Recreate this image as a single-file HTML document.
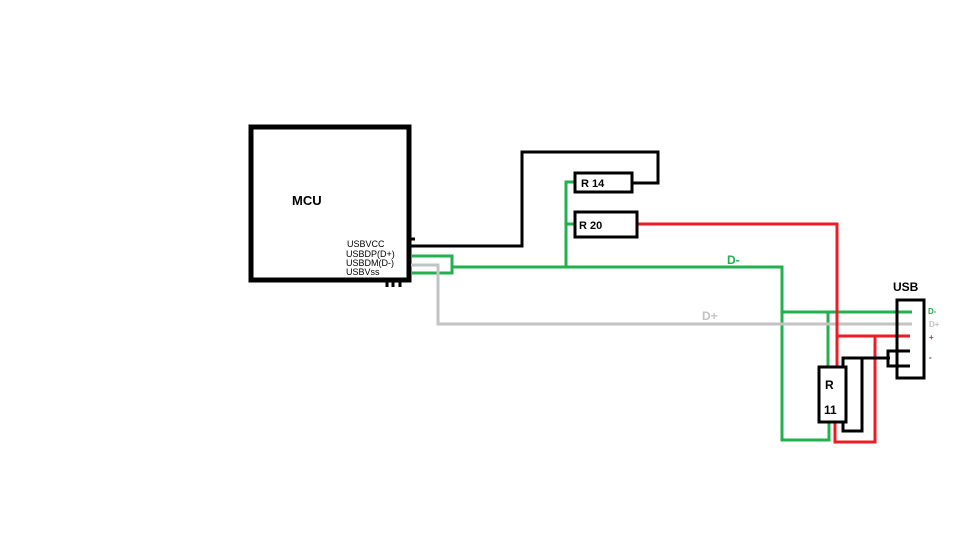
<!DOCTYPE html>
<html><head><style>body{margin:0;background:#fff}svg{display:block}</style></head><body>
<svg width="960" height="540" viewBox="0 0 960 540" font-family="Liberation Sans, sans-serif" font-weight="bold">
<rect width="960" height="540" fill="#fff"/>
<rect x="251" y="127" width="158" height="153" fill="none" stroke="#000" stroke-width="5"/>
<text x="292" y="205" font-size="13">MCU</text>
<g font-size="9" font-weight="normal" fill="#000">
<text x="347" y="247">USBVCC</text><text x="346" y="257">USBDP(D+)</text><text x="346" y="266">USBDM(D-)</text><text x="346" y="275">USBVss</text></g>
<g stroke="#000" stroke-width="3"><line x1="387" y1="282" x2="387" y2="287"/><line x1="393" y1="282" x2="393" y2="287"/><line x1="400" y1="282" x2="400" y2="287"/>
<line x1="410" y1="239" x2="415" y2="239"/></g>
<g fill="none" stroke-width="3">
<polyline stroke="#000" points="411,246 522,246 522,152 658,152 658,183 632,183"/>
<polyline stroke="#22b14c" points="411,256 452,256 452,273 411,273"/>
<polyline stroke="#22b14c" points="452,267 782,267 782,440 829,440 829,422"/>
<polyline stroke="#22b14c" points="566,267 566,182 575,182"/>
<line stroke="#22b14c" x1="566" y1="224" x2="575" y2="224"/>
<polyline stroke="#22b14c" points="782,312 912,312"/>
<polyline stroke="#22b14c" points="828,312 828,367"/>
<polyline stroke="#c3c3c3" points="411,265 438,265 438,324 912,324"/>
<polyline stroke="#ed1c24" points="637,224 837,224 837,367"/>
<polyline stroke="#ed1c24" points="837,336 910,336"/>
<polyline stroke="#ed1c24" points="875,336 875,442 835,442 835,423"/>
<polyline stroke="#000" points="843,367 843,358 890,358"/>
<polyline stroke="#000" points="843,423 843,431 862,431 862,358"/>
<polyline stroke="#000" points="910,351 888,351 888,366 910,366"/>
</g>
<g fill="#fff" stroke="#000" stroke-width="3">
<rect x="575" y="173" width="57" height="19"/>
<rect x="575" y="212" width="62" height="25"/>
<rect x="819" y="367" width="27" height="55"/>
<rect x="897" y="300" width="27" height="78" fill="none"/>
</g>
<g font-size="11"><text x="581" y="187">R 14</text><text x="579" y="229">R 20</text></g>
<text x="825" y="389" font-size="12">R</text><text x="824" y="414" font-size="12">11</text>
<text x="893" y="291" font-size="12">USB</text>
<text x="727" y="264" font-size="12" fill="#22b14c">D-</text>
<text x="702" y="320" font-size="12" fill="#c3c3c3">D+</text>
<g font-size="8"><text x="928" y="314" fill="#22b14c">D-</text><text x="929" y="327" fill="#c3c3c3">D+</text><text x="929" y="340" fill="#ed1c24">+</text><text x="929" y="360" fill="#333">-</text></g>
</svg>
</body></html>
